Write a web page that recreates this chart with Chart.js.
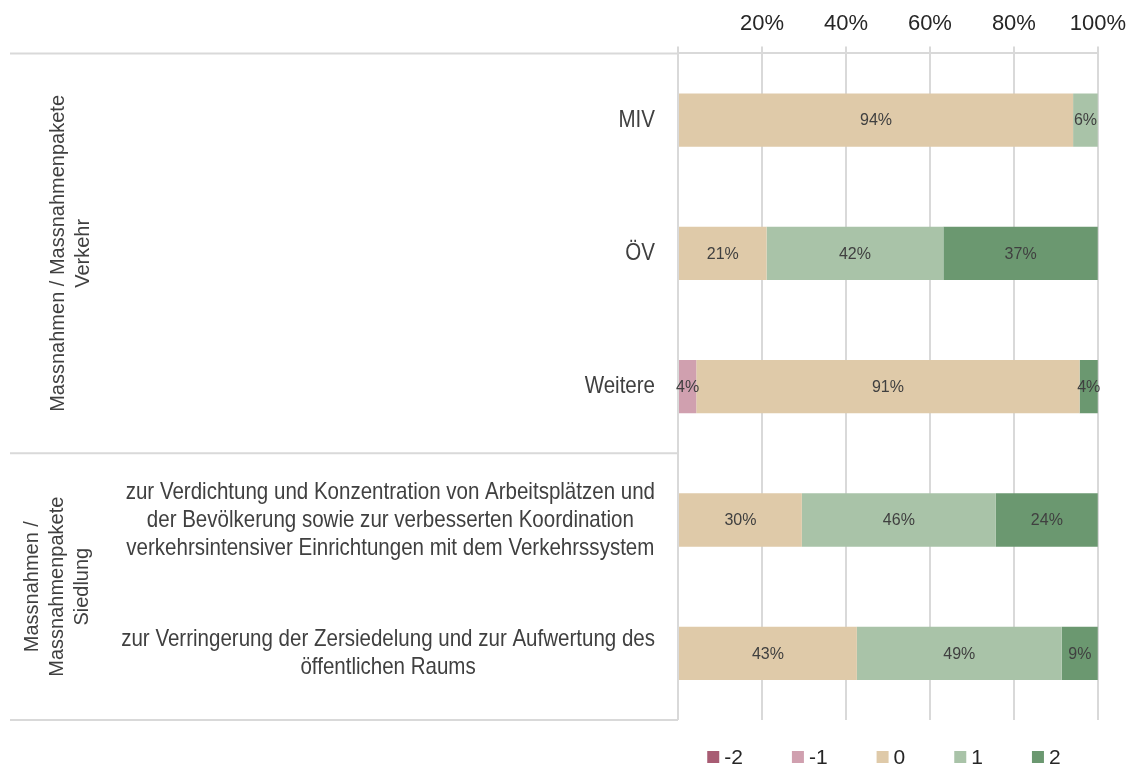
<!DOCTYPE html>
<html><head><meta charset="utf-8">
<script src="https://cdn.jsdelivr.net/npm/chart.js@4.4.1/dist/chart.umd.min.js"></script>
<style>html,body{margin:0;padding:0;background:#fff}</style>
</head><body>
<canvas id="c" width="1135" height="769"></canvas>
<script>
// ---- data ----
const categories = [
  ["MIV"],
  ["ÖV"],
  ["Weitere"],
  ["zur Verdichtung und Konzentration von Arbeitsplätzen und", "der Bevölkerung sowie zur verbesserten Koordination", "verkehrsintensiver Einrichtungen mit dem Verkehrssystem"],
  ["zur Verringerung der Zersiedelung und zur Aufwertung des", "öffentlichen Raums"]
];
const groupVerkehr = ["Massnahmen / Massnahmenpakete", "Verkehr"];
const groupSiedlung = ["Massnahmen /", "Massnahmenpakete", "Siedlung"];
const seriesNames = ["-2", "-1", "0", "1", "2"];
const valuesMinus2 = [0, 0, 0, 0, 0];
const valuesMinus1 = [0, 0, 4.35, 0, 0];
const valuesZero   = [94.1, 21.1, 91.3, 29.5, 42.6];
const valuesPlus1  = [5.9, 42.1, 0, 46.2, 48.8];
const valuesPlus2  = [0, 36.8, 4.35, 24.3, 8.6];
const xTickValues  = [0, 20, 40, 60, 80, 100];

const colors = ["#A85C73", "#D0A0AF", "#DFCAA9", "#A9C3A8", "#6B9870"];
const seriesValues = [valuesMinus2, valuesMinus1, valuesZero, valuesPlus1, valuesPlus2];

const GRID = "#d9d9d9";
const TEXT = "#404040";
const SANS = '"Liberation Sans", Arial, sans-serif';
const NARROW_SCALE = 0.855;

// ---- plugins ----
const tablePlugin = {
  id: 'tableDecor',
  afterDraw(chart) {
    const ctx = chart.ctx, ca = chart.chartArea, y = chart.scales.y;
    ctx.save();
    // separator lines
    ctx.strokeStyle = GRID; ctx.lineWidth = 2;
    const sepY = [ca.top, (y.getPixelForValue(2) + y.getPixelForValue(3)) / 2, ca.bottom];
    sepY.forEach(sy => { ctx.beginPath(); ctx.moveTo(10, sy); ctx.lineTo(ca.left, sy); ctx.stroke(); });
    // category labels (narrow look)
    ctx.fillStyle = TEXT;
    ctx.font = '24px ' + SANS;
    ctx.textBaseline = 'middle'; ctx.textAlign = 'center';
    const right = ca.left - 23, lh = 28;
    chart.data.labels.forEach((lines, i) => {
      const cy = y.getPixelForValue(i);
      const w = Math.max(...lines.map(l => ctx.measureText(l).width)) * NARROW_SCALE;
      const cx = right - w / 2;
      lines.forEach((l, k) => {
        ctx.save();
        ctx.translate(cx, cy + (k - (lines.length - 1) / 2) * lh);
        ctx.scale(NARROW_SCALE, 1);
        ctx.fillText(l, 0, 0);
        ctx.restore();
      });
    });
    // group labels (rotated)
    ctx.font = '20px ' + SANS;
    const groups = [
      {lines: groupVerkehr, y0: ca.top, y1: sepY[1], cx: 71},
      {lines: groupSiedlung, y0: sepY[1], y1: ca.bottom, cx: 57}
    ];
    groups.forEach(g => {
      ctx.save();
      ctx.translate(g.cx, (g.y0 + g.y1) / 2);
      ctx.rotate(-Math.PI / 2);
      g.lines.forEach((l, k) => ctx.fillText(l, 0, (k - (g.lines.length - 1) / 2) * 25));
      ctx.restore();
    });
    ctx.restore();
  }
};

const valueLabelPlugin = {
  id: 'valueLabels',
  afterDatasetsDraw(chart) {
    const ctx = chart.ctx;
    ctx.save();
    ctx.font = '16px ' + SANS;
    ctx.fillStyle = TEXT;
    ctx.textAlign = 'center'; ctx.textBaseline = 'middle';
    chart.data.datasets.forEach((ds, di) => {
      const meta = chart.getDatasetMeta(di);
      meta.data.forEach((el, i) => {
        const v = ds.data[i];
        if (!v) return;
        ctx.fillText(Math.round(v) + '%', (el.x + el.base) / 2, el.y + 1);
      });
    });
    ctx.restore();
  }
};

const legendPlugin = {
  id: 'bottomLegend',
  afterDraw(chart) {
    const ctx = chart.ctx, ca = chart.chartArea;
    ctx.save();
    ctx.font = '21px ' + SANS;
    ctx.textBaseline = 'middle'; ctx.textAlign = 'left';
    const box = 12, gap = 5, itemGap = 49, cy = 757;
    const items = chart.data.datasets.map(ds => ({text: ds.label, color: ds.backgroundColor, w: ctx.measureText(ds.label).width}));
    const total = items.reduce((s, it) => s + box + gap + it.w, 0) + itemGap * (items.length - 1);
    let x = (ca.left + ca.right) / 2 - 4 - total / 2;
    items.forEach(it => {
      ctx.fillStyle = it.color;
      ctx.fillRect(x, cy - box / 2, box, box);
      ctx.fillStyle = '#262626';
      ctx.fillText(it.text, x + box + gap, cy + 1);
      x += box + gap + it.w + itemGap;
    });
    ctx.restore();
  }
};

new Chart(document.getElementById('c'), {
  type: 'bar',
  data: {
    labels: categories,
    datasets: seriesNames.map((n, i) => ({
      label: n,
      data: seriesValues[i],
      backgroundColor: colors[i],
      borderWidth: 0,
      barPercentage: 0.4,
      categoryPercentage: 1
    }))
  },
  options: {
    indexAxis: 'y',
    responsive: false,
    animation: false,
    devicePixelRatio: 1,
    layout: {padding: {left: 678, right: 37, top: 2, bottom: 49}},
    plugins: {legend: {display: false}, tooltip: {enabled: false}},
    scales: {
      x: {
        position: 'top',
        stacked: true,
        min: 0, max: 100,
        afterBuildTicks(scale) { scale.ticks = xTickValues.map(v => ({value: v})); },
        ticks: {
          callback: v => v === 0 ? '' : v + '%',
          font: {family: SANS, size: 22},
          color: '#262626',
          padding: 9,
          maxRotation: 0
        },
        grid: {color: GRID, lineWidth: 2, tickLength: 7},
        border: {display: true, color: GRID, width: 2}
      },
      y: {
        stacked: true,
        display: false
      }
    }
  },
  plugins: [tablePlugin, valueLabelPlugin, legendPlugin]
});
</script>
</body></html>
